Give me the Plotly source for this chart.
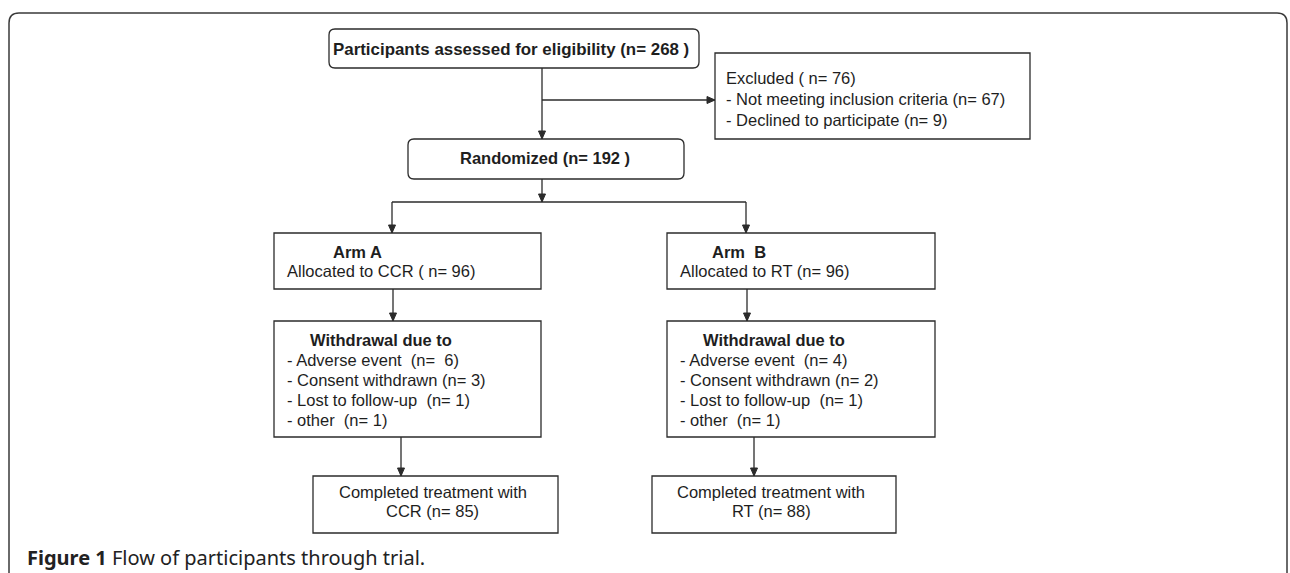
import plotly.graph_objects as go

# ---- data (counts) ----
assessed = 268
excluded = 76
not_meeting = 67
declined = 9
randomized = 192
allocated = {"A": 96, "B": 96}
treatment = {"A": "CCR", "B": "RT"}
withdraw_reasons = ["Adverse event", "Consent withdrawn", "Lost to follow-up", "other"]
withdraw_A = [6, 3, 1, 1]
withdraw_B = [4, 2, 1, 1]
completed = {"A": 85, "B": 88}

W, H = 1290, 573
LC = "#2b2b2b"
TC = "#1e1e1e"
FONT = "Liberation Sans"

shapes = []
annotations = []


def rect(x0, y0, x1, y1):
    shapes.append(dict(type="rect", x0=x0, y0=y0, x1=x1, y1=y1,
                       line=dict(color=LC, width=1.3), fillcolor="rgba(0,0,0,0)"))


def rrect(x0, y0, x1, y1, r=6):
    p = (f"M {x0+r},{y0} L {x1-r},{y0} Q {x1},{y0} {x1},{y0+r} L {x1},{y1-r} "
         f"Q {x1},{y1} {x1-r},{y1} L {x0+r},{y1} Q {x0},{y1} {x0},{y1-r} "
         f"L {x0},{y0+r} Q {x0},{y0} {x0+r},{y0} Z")
    shapes.append(dict(type="path", path=p, line=dict(color=LC, width=1.3)))


def line(x0, y0, x1, y1):
    shapes.append(dict(type="line", x0=x0, y0=y0, x1=x1, y1=y1,
                       line=dict(color=LC, width=1.3)))


def arrow(x0, y0, x1, y1, L=8, w=3.5):
    line(x0, y0, x1, y1)
    if x0 == x1:  # vertical, pointing down
        p = f"M {x1-w},{y1-L} L {x1+w},{y1-L} L {x1},{y1} Z"
    else:  # horizontal, pointing right
        p = f"M {x1-L},{y1-w} L {x1-L},{y1+w} L {x1},{y1} Z"
    shapes.append(dict(type="path", path=p, fillcolor=LC, line=dict(color=LC, width=1)))


def text(x, y, s, size=16.5, bold=False, anchor="left"):
    if bold:
        s = f"<b>{s}</b>"
    annotations.append(dict(x=x, y=y, text=s, showarrow=False, xanchor=anchor,
                            yanchor="middle", font=dict(family=FONT, size=size, color=TC)))


# outer frame (open at the bottom)
r = 10
shapes.append(dict(type="path",
                   path=f"M 9,{H+5} L 9,{13+r} Q 9,13 {9+r},13 L {1287-r},13 Q 1287,13 1287,{13+r} L 1287,{H+5}",
                   line=dict(color="#3a3a3a", width=1.5)))

# top: assessed
rrect(329, 29, 699, 68)
text(511, 49, f"Participants assessed for eligibility (n= {assessed} )", size=16.9, bold=True, anchor="center")

# excluded
rect(715, 53, 1030, 139)
text(724, 78, f"Excluded ( n= {excluded})")
text(724, 99, f"- Not meeting inclusion criteria (n= {not_meeting})")
text(724, 120, f"- Declined to participate (n= {declined})")

arrow(542, 68, 542, 139)
arrow(542, 100, 715, 100)

# randomized
rrect(408, 139, 684, 179)
text(545, 158, f"Randomized (n= {randomized} )", bold=True, anchor="center")

arrow(542, 179, 542, 202)
line(392, 202, 746, 202)

arms = [
    dict(k="A", bx0=274, bx1=541, ax=392, a2=393, a3=401, cx0=313, cx1=558,
         head="Arm A", hx=331, alloc=f"Allocated to {treatment['A']} ( n= {allocated['A']})", w=withdraw_A),
    dict(k="B", bx0=667, bx1=935, ax=746, a2=747, a3=754, cx0=652, cx1=896,
         head="Arm  B", hx=710, alloc=f"Allocated to {treatment['B']} (n= {allocated['B']})", w=withdraw_B),
]

for a in arms:
    arrow(a["ax"], 202, a["ax"], 233)
    rect(a["bx0"], 233, a["bx1"], 289)
    text(a["hx"], 252, a["head"], bold=True)
    text(a["bx0"] + 11, 271, a["alloc"])

    arrow(a["a2"], 289, a["a2"], 321)
    rect(a["bx0"], 321, a["bx1"], 437)
    text(a["bx0"] + 34, 340, "Withdrawal due to", bold=True)
    for i, (reason, n) in enumerate(zip(withdraw_reasons, a["w"])):
        gap = "  " if reason != "Consent withdrawn" else " "
        nstr = f"(n=  {n})" if (a["k"] == "A" and i == 0) else f"(n= {n})"
        text(a["bx0"] + 11, 360 + 20 * i, f"- {reason}{gap}{nstr}")

    arrow(a["a3"], 437, a["a3"], 476)
    rect(a["cx0"], 476, a["cx1"], 533)
    cxm = (a["cx0"] + a["cx1"]) / 2 - 3
    text(cxm, 492, "Completed treatment with", anchor="center")
    text(cxm, 511, f"{treatment[a['k']]} (n= {completed[a['k']]})", anchor="center")

# caption
annotations.append(dict(x=25, y=557, xanchor="left", yanchor="middle", showarrow=False,
                        text="<b>Figure 1</b> Flow of participants through trial.",
                        font=dict(family="Noto Sans", size=20, color="#222222")))

fig = go.Figure()
fig.update_layout(
    width=W, height=H, margin=dict(l=0, r=0, t=0, b=0),
    paper_bgcolor="white", plot_bgcolor="white",
    xaxis=dict(range=[0, W], visible=False, fixedrange=True),
    yaxis=dict(range=[H, 0], visible=False, fixedrange=True),
    shapes=shapes, annotations=annotations, showlegend=False,
)
fig.write_html("out.html", config={"displayModeBar": False},
               post_script="document.body.style.margin='0';document.body.style.overflow='hidden';")
